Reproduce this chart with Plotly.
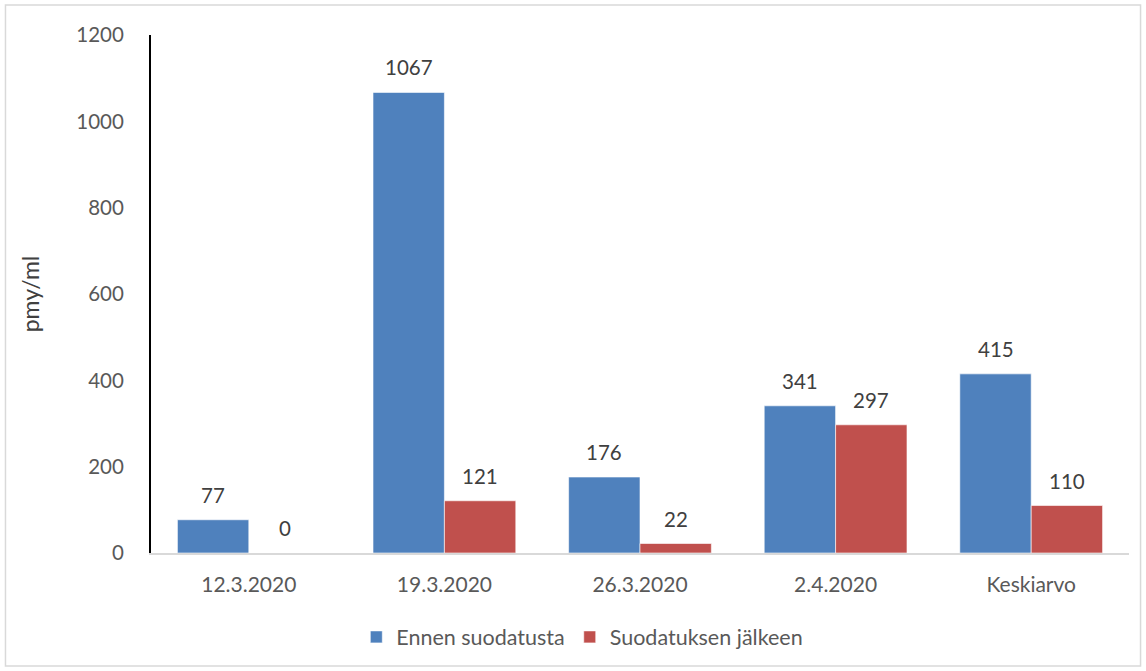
import plotly.graph_objects as go

# Sample dates and the two measurement series (pmy/ml)
categories = ["12.3.2020", "19.3.2020", "26.3.2020", "2.4.2020", "Keskiarvo"]
before_filter = [77, 1067, 176, 341, 415]
after_filter = [0, 121, 22, 297, 110]
y_ticks = [0, 200, 400, 600, 800, 1000, 1200]

FONT = "Lato, 'Open Sans', sans-serif"
GREY = "#595959"
BARGAP = 0.27

fig = go.Figure()
fig.add_trace(go.Bar(
    x=categories, y=before_filter, name="Ennen suodatusta",
    marker=dict(color="#4F81BD", line=dict(color="#FFFFFF", width=0.6)),
))
fig.add_trace(go.Bar(
    x=categories, y=after_filter, name="Suodatuksen jälkeen",
    marker=dict(color="#C0504D", line=dict(color="#FFFFFF", width=0.6)),
))

# value labels sit a little above each bar, centred on it
half = (1 - BARGAP) / 4
annotations = []
for series, offset in ((before_filter, -half), (after_filter, half)):
    for i, v in enumerate(series):
        annotations.append(dict(
            x=i + offset, y=v, xref="x", yref="y", text=str(v),
            showarrow=False, yanchor="middle", yshift=25,
            font=dict(size=20.5, color="#404040", family=FONT),
        ))

fig.update_layout(
    width=1146, height=671,
    margin=dict(l=151, r=17, t=35, b=118),
    paper_bgcolor="white", plot_bgcolor="white",
    barmode="group", bargap=BARGAP, bargroupgap=0,
    font=dict(family=FONT, size=20, color=GREY),
    showlegend=True,
    legend=dict(orientation="h", x=0.441, xanchor="center", y=-0.162, yanchor="middle",
                font=dict(size=21.5, color=GREY), itemwidth=30, traceorder="normal"),
    xaxis=dict(showgrid=False, showline=True, linecolor="#D9D9D9", linewidth=1.5,
               ticks="", tickfont=dict(size=21, color=GREY), ticklabelstandoff=12),
    yaxis=dict(range=[0, 1200], tickvals=y_ticks, showgrid=False, zeroline=False,
               showline=True, linecolor="black", linewidth=2, ticks="",
               tickfont=dict(size=20.5, color=GREY), ticklabelstandoff=21,
               title=dict(text="pmy/ml", font=dict(size=23, color="#404040"), standoff=30)),
    annotations=annotations,
    shapes=[dict(type="rect", xref="paper", yref="paper",
                 x0=-0.1488, x1=1.0118, y0=-0.218, y1=1.058,
                 line=dict(color="#D9D9D9", width=1.5), fillcolor="rgba(0,0,0,0)",
                 layer="below")],
)

fig.write_html("out.html")
